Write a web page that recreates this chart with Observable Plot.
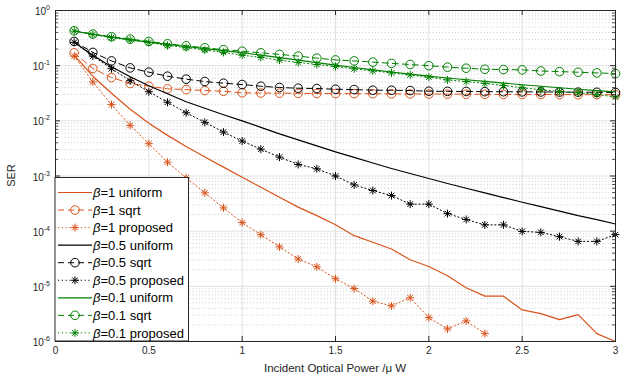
<!DOCTYPE html>
<html>
<head>
<meta charset="utf-8">
<script src="https://cdn.jsdelivr.net/npm/d3@7"></script>
<script src="https://cdn.jsdelivr.net/npm/@observablehq/plot@0.6"></script>
<style>
  html, body { margin: 0; padding: 0; background: #fff; }
  #chart { width: 630px; height: 378px; }
</style>
</head>
<body>
<div id="chart"></div>
<script>
// Incident optical power (µW) at which each scheme was evaluated
const power = [0.1, 0.2, 0.3, 0.4, 0.5, 0.6, 0.7, 0.8, 0.9, 1.0,
               1.1, 1.2, 1.3, 1.4, 1.5, 1.6, 1.7, 1.8, 1.9, 2.0,
               2.1, 2.2, 2.3, 2.4, 2.5, 2.6, 2.7, 2.8, 2.9, 3.0];

// Symbol error rate, β = 1
const uniformB1 = [0.155, 0.0644, 0.0316, 0.0162, 0.00901, 0.00545, 0.00344, 0.00221, 0.00145, 0.000951,
                   0.000625, 0.000412, 0.000273, 0.000191, 0.000131, 0.0000828, 0.0000631, 0.0000475, 0.0000303, 0.0000229,
                   0.0000155, 0.0000094, 0.00000664, 0.00000664, 0.00000374, 0.0000032, 0.00000249, 0.00000307, 0.00000139, 0.000001];
const sqrtB1 = [0.171, 0.089, 0.061, 0.0475, 0.0424, 0.038, 0.0369, 0.0354, 0.0344, 0.0322,
                0.0319, 0.0317, 0.0315, 0.0313, 0.0312, 0.0311, 0.031, 0.0308, 0.0307, 0.0306,
                0.0305, 0.0304, 0.0302, 0.0301, 0.0301, 0.03, 0.0299, 0.0298, 0.0298, 0.0297];
const proposedB1 = [0.149, 0.0507, 0.0197, 0.00828, 0.00385, 0.00178, 0.000927, 0.000495, 0.000264, 0.000143,
                    0.0000863, 0.0000519, 0.0000313, 0.0000226, 0.0000137, 0.00000912, 0.00000538, 0.00000442, 0.00000621, 0.00000271,
                    0.00000169, 0.00000236, 0.00000139];

// Symbol error rate, β = 0.5
const uniformB05 = [0.267, 0.155, 0.0959, 0.0631, 0.0433, 0.031, 0.0222, 0.0169, 0.0129, 0.01,
                    0.00762, 0.00581, 0.00452, 0.00351, 0.00273, 0.00217, 0.00172, 0.00137, 0.00111, 0.000901,
                    0.000731, 0.0006, 0.000495, 0.000406, 0.000334, 0.000279, 0.000231, 0.000191, 0.000162, 0.000135];
const sqrtB05 = [0.275, 0.174, 0.122, 0.0912, 0.0762, 0.0644, 0.0569, 0.0516, 0.0481, 0.0455,
                 0.0424, 0.0402, 0.039, 0.0385, 0.0374, 0.0369, 0.0359, 0.0359, 0.0354, 0.0344,
                 0.0342, 0.0341, 0.0338, 0.0337, 0.0335, 0.0334, 0.0332, 0.0331, 0.0329, 0.0327];
const proposedB05 = [0.265, 0.149, 0.0882, 0.0534, 0.0337, 0.0217, 0.014, 0.0094, 0.00625, 0.0043,
                     0.00307, 0.0022, 0.00162, 0.00135, 0.001, 0.00069, 0.000545, 0.000442, 0.000309, 0.000309,
                     0.000208, 0.000163, 0.00013, 0.00013, 0.0000991, 0.0000951, 0.0000794, 0.0000653, 0.0000653, 0.0000864];

// Symbol error rate, β = 0.1
const uniformB01 = [0.424, 0.371, 0.330, 0.296, 0.268, 0.243, 0.2225, 0.2037, 0.1874, 0.1723,
                    0.1552, 0.1398, 0.1259, 0.1134, 0.1021, 0.0927, 0.0842, 0.0768, 0.0701, 0.0644,
                    0.0597, 0.0556, 0.0518, 0.0483, 0.0451, 0.0424, 0.0398, 0.0374, 0.0354, 0.0335];
const sqrtB01 = [0.429, 0.374, 0.334, 0.303, 0.275, 0.249, 0.229, 0.211, 0.195, 0.183,
                 0.171, 0.160, 0.149, 0.137, 0.127, 0.122, 0.116, 0.110, 0.105, 0.100,
                 0.094, 0.090, 0.086, 0.085, 0.084, 0.080, 0.078, 0.076, 0.074, 0.072];
const proposedB01 = [0.424, 0.366, 0.323, 0.291, 0.262, 0.233, 0.2125, 0.193, 0.1738, 0.1552,
                     0.141, 0.1259, 0.1143, 0.1051, 0.0967, 0.0875, 0.0804, 0.074, 0.068, 0.0618,
                     0.0552, 0.0516, 0.0475, 0.0437, 0.0398, 0.0366, 0.034, 0.0323, 0.0301, 0.027];

const betas = ["1", "0.5", "0.1"];
const schemes = ["uniform", "sqrt", "proposed"];
const betaColors = ["#D95319", "#000000", "#008000"];
const seriesValues = [
  [uniformB1, sqrtB1, proposedB1],
  [uniformB05, sqrtB05, proposedB05],
  [uniformB01, sqrtB01, proposedB01]
];

const xTicks = [0, 0.5, 1, 1.5, 2, 2.5, 3];
const xTickLabels = ["0", "0.5", "1", "1.5", "2", "2.5", "3"];
const yExponents = [0, -1, -2, -3, -4, -5, -6];
const xLabel = "Incident Optical Power /\u03bc W";
const yLabel = "SER";

// eight-armed asterisk marker
const asterisk = {
  draw(ctx, size) {
    const r = Math.sqrt(size / Math.PI);
    const d = r * Math.SQRT1_2;
    ctx.moveTo(-r, 0); ctx.lineTo(r, 0);
    ctx.moveTo(0, -r); ctx.lineTo(0, r);
    ctx.moveTo(-d, -d); ctx.lineTo(d, d);
    ctx.moveTo(-d, d); ctx.lineTo(d, -d);
  }
};

const schemeStyle = {
  uniform:  {dash: null,      width: 1.2, symbol: null,     r: 0},
  sqrt:     {dash: "6,4",     width: 1,   symbol: "circle", r: 4.3},
  proposed: {dash: "1.2,2.6", width: 1,   symbol: asterisk, r: 4}
};

const series = [];
betas.forEach((beta, i) => schemes.forEach((scheme, j) => {
  series.push({
    beta, scheme, color: betaColors[i],
    rows: seriesValues[i][j].map((v, k) => ({power: power[k], ser: v}))
  });
}));

const decades = yExponents.map(e => Math.pow(10, e));
const minorY = [];
for (const e of yExponents.slice(1)) for (let m = 2; m <= 9; m++) minorY.push(m * Math.pow(10, e));

const W = 630, H = 378;
const mL = 55, mR = 15, mT = 10, mB = 37;
const fw = W - mL - mR, fh = H - mT - mB;
const axisColor = "#262626";
const fontFamily = "'Liberation Sans', Arial, Helvetica, sans-serif";

const marks = [
  Plot.ruleY(minorY, {y: d => d, stroke: "#c2c2c2", strokeWidth: 0.8, strokeDasharray: "1,2.2"}),
  Plot.ruleY(decades, {y: d => d, stroke: "#e0e0e0", strokeWidth: 1}),
  Plot.ruleX(xTicks, {x: d => d, stroke: "#e0e0e0", strokeWidth: 1})
];

for (const s of series) {
  const st = schemeStyle[s.scheme];
  const lineOpts = {x: "power", y: "ser", stroke: s.color, strokeWidth: st.width};
  if (st.dash) lineOpts.strokeDasharray = st.dash;
  marks.push(Plot.line(s.rows, lineOpts));
  if (st.symbol) {
    marks.push(Plot.dot(s.rows, {x: "power", y: "ser", symbol: st.symbol, r: st.r,
      stroke: s.color, fill: "none", strokeWidth: 1}));
  }
}

marks.push(
  // inward tick marks on all four sides
  Plot.ruleX(xTicks, {x: d => d, insetTop: fh - 5, stroke: axisColor}),
  Plot.ruleX(xTicks, {x: d => d, insetBottom: fh - 5, stroke: axisColor}),
  Plot.ruleY(decades, {y: d => d, insetRight: fw - 5, stroke: axisColor}),
  Plot.ruleY(decades, {y: d => d, insetLeft: fw - 5, stroke: axisColor}),
  Plot.ruleY(minorY, {y: d => d, insetRight: fw - 3, stroke: axisColor, strokeWidth: 0.8}),
  Plot.ruleY(minorY, {y: d => d, insetLeft: fw - 3, stroke: axisColor, strokeWidth: 0.8}),
  Plot.frame({stroke: axisColor, strokeWidth: 1}),
  Plot.text(xTicks, {x: d => d, text: (d, i) => xTickLabels[i], frameAnchor: "bottom",
    dy: 12, fontSize: 10, fill: axisColor})
);

const plot = Plot.plot({
  width: W, height: H,
  marginLeft: mL, marginRight: mR, marginTop: mT, marginBottom: mB,
  style: {fontFamily, fontSize: "10px", background: "#fff", overflow: "visible"},
  x: {domain: [0, 3], axis: null},
  y: {type: "log", domain: [1e-6, 1], axis: null},
  marks
});

document.getElementById("chart").appendChild(plot);

const svg = d3.select(plot);
const yScale = plot.scale("y");
const xScale = plot.scale("x");

// y tick labels as powers of ten
const yLab = svg.append("g")
  .attr("font-family", fontFamily)
  .attr("fill", axisColor)
  .attr("text-anchor", "end");
for (const e of yExponents) {
  const py = yScale.apply(Math.pow(10, e));
  const t = yLab.append("text").attr("x", mL - 5).attr("y", py + 5);
  t.append("tspan").attr("font-size", 10).text("10");
  t.append("tspan").attr("font-size", 7).attr("dy", -5).text(String(e));
}

// axis titles
const xMid = (xScale.apply(0) + xScale.apply(3)) / 2;
svg.append("text")
  .attr("x", xMid).attr("y", H - 6)
  .attr("text-anchor", "middle")
  .attr("font-family", fontFamily)
  .attr("font-size", 11.5).attr("fill", axisColor)
  .text(xLabel);
const yMid = (yScale.apply(1) + yScale.apply(1e-6)) / 2;
svg.append("text")
  .attr("transform", `translate(15,${yMid}) rotate(-90)`)
  .attr("text-anchor", "middle")
  .attr("font-family", fontFamily)
  .attr("font-size", 11).attr("fill", axisColor)
  .text(yLabel);

// legend in the lower-left corner of the axes
const lx = xScale.apply(0), lBottom = yScale.apply(1e-6);
const rowH = 17.55, lw = 133.5, lh = 163.5;
const leg = svg.append("g")
  .attr("font-family", fontFamily)
  .attr("font-size", 13)
  .attr("text-anchor", "start");
leg.append("rect")
  .attr("x", lx).attr("y", lBottom - lh).attr("width", lw).attr("height", lh)
  .attr("fill", "#fff").attr("stroke", axisColor).attr("stroke-width", 1);
series.forEach((s, i) => {
  const st = schemeStyle[s.scheme];
  const cy = lBottom - lh + 15 + i * rowH;
  const g = leg.append("g");
  const ln = g.append("line")
    .attr("x1", lx + 3).attr("x2", lx + 37).attr("y1", cy).attr("y2", cy)
    .attr("stroke", s.color).attr("stroke-width", st.width);
  if (st.dash) ln.attr("stroke-dasharray", st.dash);
  if (st.symbol) {
    const sym = st.symbol === "circle" ? d3.symbolCircle : st.symbol;
    g.append("path")
      .attr("transform", `translate(${lx + 20},${cy})`)
      .attr("d", d3.symbol(sym, st.r * st.r * Math.PI)())
      .attr("fill", "none").attr("stroke", s.color).attr("stroke-width", 1);
  }
  const t = g.append("text").attr("x", lx + 38).attr("y", cy).attr("dy", "0.36em").attr("fill", "#000");
  t.append("tspan").attr("font-style", "italic").text("\u03b2");
  t.append("tspan").text(`=${s.beta} ${s.scheme}`);
});
</script>
</body>
</html>
